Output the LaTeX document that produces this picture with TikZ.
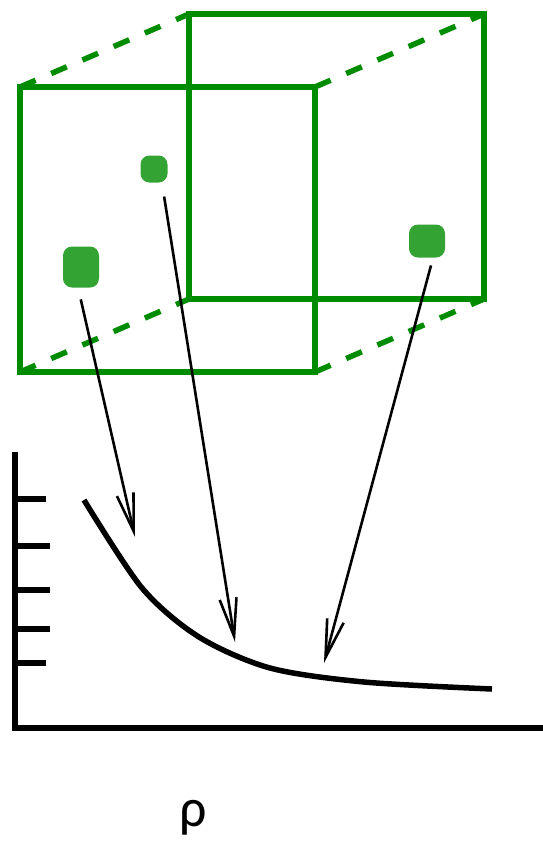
\documentclass[tikz,border=0pt]{standalone}
\usepackage{fontspec}
\setmainfont{Carlito}
\usetikzlibrary{arrows.meta}

\definecolor{cubegreen}{RGB}{0,140,0}
\definecolor{dotgreen}{RGB}{51,163,51}

\begin{document}
\begin{tikzpicture}[x=1pt,y=-1pt,
edge/.style={draw=cubegreen,line width=5.5pt},
hidden/.style={edge,dash pattern=on 17pt off 17pt},
blob/.style={fill=dotgreen,rounded corners=9pt,inner sep=0pt},
ray/.style={-{Straight Barb[length=38pt,width=17pt]},line width=2.6pt},
axis/.style={line width=5.5pt}]
\useasboundingbox (0,0) rectangle (543,844);
% cube corners
\coordinate (f1) at (20,87);\coordinate (f2) at (315,87);\coordinate (f3) at (315,372);\coordinate (f4) at (20,372);
\coordinate (b1) at (189,14);\coordinate (b2) at (484,14);\coordinate (b3) at (484,299);\coordinate (b4) at (189,299);
\draw[edge] (b1)--(b2)--(b3)--(b4)--cycle;
\draw[edge] (f1)--(f2)--(f3)--(f4)--cycle;
\draw[hidden](f1)--(b1);\draw[hidden](f2)--(b2);\draw[hidden](f3)--(b3);\draw[hidden](f4)--(b4);
% particles
\node[blob,minimum width=27pt,minimum height=27pt] (p1) at (154,169) {};
\node[blob,minimum width=36pt,minimum height=41pt] (p2) at (81,267) {};
\node[blob,minimum width=36pt,minimum height=33pt] (p3) at (427,241) {};
% plot
\coordinate (o) at (15,728);\coordinate (ytop) at (15,452);\coordinate (xend) at (543,728);
\draw[axis] (ytop)--(o)--(xend);
\foreach \y/\l in {499/46,546/50,590/50,629/50,663/46} \draw[axis] (18,\y)--(\l,\y);
\draw[axis] plot[smooth,tension=0.5] coordinates {(84,500) (142,588) (199,637) (270,668) (364,682) (492,689)};
\node[font=\fontsize{54}{58}\selectfont] (rho) at (193,818) {ρ};
% arrows
\coordinate (t1) at (135,537);\coordinate (t2) at (235,642);\coordinate (t3) at (324,663);
\draw[ray,shorten <=12pt] (p2.-98)--(t1);
\draw[ray,shorten <=14pt] (p1.-60)--(t2);
\draw[ray,shorten <=8pt] (p3.-70)--(t3);
\end{tikzpicture}
\end{document}
